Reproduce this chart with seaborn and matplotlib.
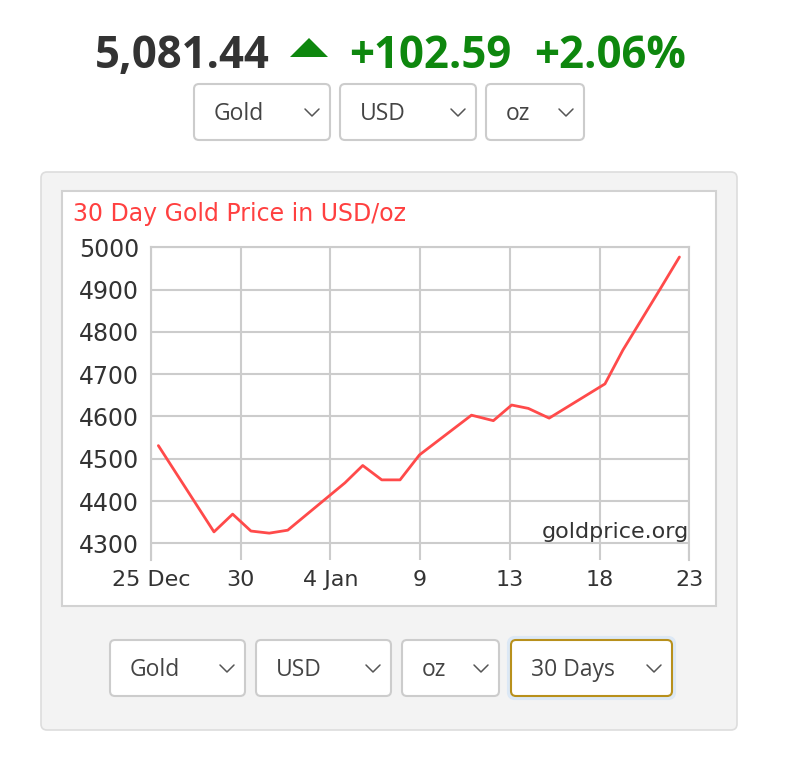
import matplotlib
matplotlib.use("Agg")
import matplotlib.pyplot as plt
import seaborn as sns
import pandas as pd
from matplotlib.patches import FancyBboxPatch, Rectangle, Polygon

# ---------------- data ----------------
days_from_25dec = [0.41, 3.51, 4.55, 5.57, 6.59, 7.62,
                   10.81, 11.80, 12.86, 13.88, 14.96,
                   17.86, 19.08, 20.10, 21.03, 22.19,
                   25.30, 26.30, 27.35, 28.40, 29.45]
prices = [4531, 4327, 4369, 4329, 4324, 4331,
          4443, 4484, 4450, 4450, 4509,
          4603, 4590, 4627, 4619, 4596,
          4677, 4757, 4830, 4903, 4977]
x_tick_days = [0, 5, 10, 15, 20, 25, 30]
x_tick_labels = ["25 Dec", "30", "4 Jan", "9", "13", "18", "23"]
y_ticks = [4300, 4400, 4500, 4600, 4700, 4800, 4900, 5000]

price_text = "5,081.44"
change_text = "+102.59"
pct_text = "+2.06%"
title_text = "30 Day Gold Price in USD/oz"
watermark = "goldprice.org"
top_selects = ["Gold", "USD", "oz"]
bottom_selects = ["Gold", "USD", "oz", "30 Days"]

df = pd.DataFrame({"day": days_from_25dec, "price": prices})

# ---------------- style ----------------
sns.set_style("white")
plt.rcParams["font.family"] = ["DejaVu Sans"]

W, H = 800, 770
fig = plt.figure(figsize=(W / 100, H / 100), dpi=100)
fig.patch.set_facecolor("white")

bg = fig.add_axes([0, 0, 1, 1])
bg.set_xlim(0, W)
bg.set_ylim(H, 0)
bg.axis("off")
bg.set_zorder(0)


def rbox(x0, y0, x1, y1, fc, ec, lw, r, z=1):
    bg.add_patch(FancyBboxPatch((x0, y0), x1 - x0, y1 - y0,
                                boxstyle=f"round,pad=0,rounding_size={r}",
                                fc=fc, ec=ec, lw=lw, zorder=z))


def dropdown(x0, y0, x1, y1, label, ec="#cccccc", glow=False):
    if glow:
        rbox(x0 - 2, y0 - 2, x1 + 2, y1 + 2, "none", "#dce8f5", 3.0, 6, z=1)
    rbox(x0, y0, x1, y1, "white", ec, 1.5, 5, z=2)
    cy = (y0 + y1) / 2
    bg.text(x0 + 20, cy + 2, label, fontsize=16.5, color="#444444",
            family="Open Sans", ha="left", va="center", zorder=3)
    cx = x1 - 18
    bg.plot([cx - 7, cx, cx + 7], [cy - 3, cy + 4, cy - 3],
            color="#555555", lw=1.1, zorder=3, solid_capstyle="round")


# header
hdr_base = 68
bg.text(95, hdr_base, price_text, fontsize=31.5, fontweight="bold",
        color="#333333", family="Open Sans", ha="left", va="baseline")
bg.add_patch(Polygon([(290, 57), (328, 57), (309, 38)], closed=True,
                     fc="#0e870e", ec="none"))
bg.text(349, hdr_base, change_text, fontsize=31.5, fontweight="bold",
        color="#0e870e", family="Open Sans", ha="left", va="baseline")
bg.text(534, hdr_base, pct_text, fontsize=31.5, fontweight="bold",
        color="#0e870e", family="Open Sans", ha="left", va="baseline")

# top dropdowns
for (x0, x1), lab in zip([(194, 330), (340, 476), (486, 584)], top_selects):
    dropdown(x0, 84, x1, 140, lab)

# panel
rbox(41, 172, 737, 730, "#f3f3f3", "#dddddd", 1.2, 6, z=0.5)
bg.add_patch(Rectangle((62, 191), 716 - 62, 606 - 191, fc="white",
                       ec="#d2d2d2", lw=1.5, zorder=1))
bg.text(73, 221.5, title_text, fontsize=17, color="#ff4040",
        ha="left", va="baseline", zorder=3)

# bottom dropdowns
for (x0, x1), lab in zip([(110, 245), (256, 391), (402, 499), (511, 672)],
                         bottom_selects):
    if lab == "30 Days":
        dropdown(x0, 640, x1, 696, lab, ec="#b8901c", glow=True)
    else:
        dropdown(x0, 640, x1, 696, lab)

# ---------------- chart ----------------
ax_l, ax_r, ax_t, ax_b = 151, 689.3, 247.3, 560
ax = fig.add_axes([ax_l / W, 1 - ax_b / H, (ax_r - ax_l) / W, (ax_b - ax_t) / H])
ax.set_zorder(2)
ax.set_facecolor("white")

sns.lineplot(data=df, x="day", y="price", ax=ax, color="#ff4a4a",
             linewidth=2.0, zorder=5)

ax.set_xlim(0, 30)
ax.set_ylim(4260.5, 5000)
ax.set_xticks(x_tick_days)
ax.set_xticklabels(x_tick_labels)
ax.set_yticks(y_ticks)
ax.set_xlabel("")
ax.set_ylabel("")
ax.grid(True, color="#cccccc", linewidth=1.5, zorder=0)
ax.set_axisbelow(True)
for s in ["top", "left", "right"]:
    ax.spines[s].set_color("#cccccc")
    ax.spines[s].set_linewidth(1.5)
ax.spines["bottom"].set_visible(False)
ax.tick_params(axis="y", length=0, pad=8.5, labelsize=17, labelcolor="#333333")
ax.tick_params(axis="x", length=0, pad=7.5, labelsize=16, labelcolor="#333333")

ax.text(0.999, (ax_b - 538) / (ax_b - ax_t), watermark, transform=ax.transAxes,
        ha="right", va="baseline", fontsize=16, color="#333333", zorder=6)

fig.savefig("out.png", dpi=100)
